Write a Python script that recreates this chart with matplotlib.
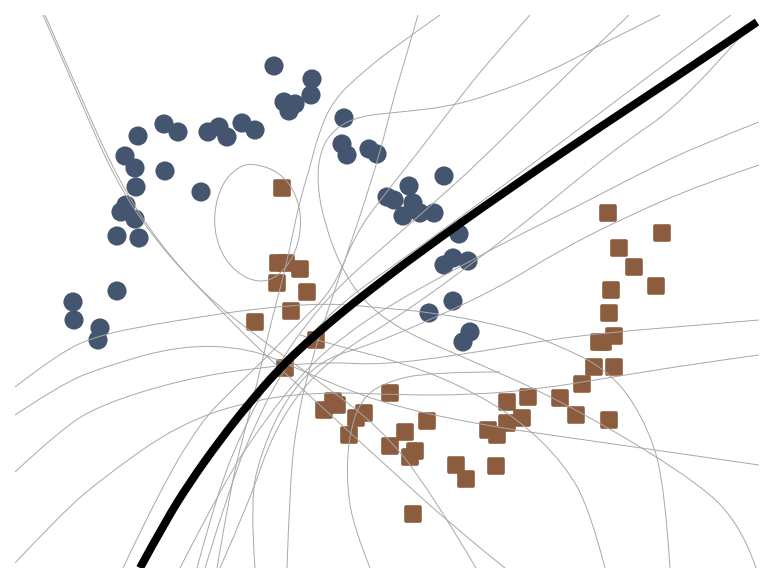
import numpy as np
import matplotlib
matplotlib.use("Agg")
import matplotlib.pyplot as plt
from matplotlib.path import Path
from matplotlib.patches import PathPatch
from matplotlib.markers import MarkerStyle

# ---- data (x, y) in plot units (y grows downward) ----
blue_x = [138, 164, 178, 208, 219, 227, 242, 255, 125, 135, 165, 136, 201, 126, 121, 135, 117, 139,
          274, 312, 311, 284, 295, 289, 344, 342, 347, 369, 377,
          444, 409, 387, 394, 413, 403, 420, 434, 459, 444, 453, 468, 453, 429, 470, 463,
          117, 73, 74, 100, 98]
blue_y = [136, 124, 132, 132, 127, 137, 123, 130, 156, 168, 171, 187, 192, 205, 212, 219, 236, 238,
          66, 79, 95, 102, 104, 111, 118, 144, 155, 149, 154,
          176, 186, 197, 200, 203, 216, 213, 213, 234, 265, 258, 261, 301, 313, 332, 342,
          291, 302, 320, 328, 340]

brown_x = [282, 278, 286, 300, 277, 307, 291, 255, 316, 285,
           390, 324, 333, 337, 364, 356, 349, 427, 405, 390, 415, 410, 456, 466, 496, 413,
           488, 497, 507, 528, 507, 522,
           608, 662, 619, 634, 656, 611, 609, 614, 599, 603, 594, 614, 582, 560, 576, 609]
brown_y = [188, 263, 263, 269, 283, 292, 311, 322, 340, 368,
           393, 410, 401, 405, 413, 418, 435, 421, 432, 446, 451, 457, 465, 479, 466, 514,
           430, 435, 402, 397, 423, 418,
           213, 233, 248, 267, 286, 290, 313, 336, 342, 342, 367, 367, 384, 398, 415, 420]

# main boundary
boundary = [(140, 568), (165, 522), (190, 482), (220, 440), (250, 402), (280, 368), (305, 344),
            (335, 318), (370, 290), (420, 252), (500, 195), (600, 127), (700, 61), (757, 22)]

# other boundaries
thin_curves = {
    "top_a": [(43, 15), (78, 95), (115, 180), (155, 240), (205, 295), (255, 335), (310, 375),
              (380, 427), (430, 490), (476, 568)],
    "top_b": [(45, 15), (80, 95), (118, 180), (160, 245), (210, 300), (260, 350), (300, 387),
              (380, 460), (457, 530), (505, 568)],
    "steep": [(418, 15), (405, 60), (393, 100), (380, 153), (362, 210), (345, 260), (328, 310),
              (310, 365), (297, 420), (290, 480), (287, 568)],
    "t440": [(440, 15), (400, 43), (365, 70), (333, 100), (318, 135), (310, 167), (300, 200),
             (293, 233), (285, 270), (277, 300), (268, 335), (258, 380), (245, 430), (232, 480),
             (217, 568)],
    "t530": [(530, 15), (497, 52), (463, 93), (420, 150), (380, 200), (355, 235), (333, 290),
             (300, 322), (267, 357), (230, 392), (200, 423), (160, 490), (123, 568)],
    "t630": [(629, 15), (547, 93), (484, 158), (420, 215), (380, 250), (340, 285), (305, 325),
             (275, 370), (245, 425), (218, 490), (197, 568)],
    "t660": [(660, 15), (600, 45), (547, 73), (490, 95), (447, 107), (400, 112), (360, 116),
             (335, 128), (320, 150), (317, 185), (325, 225), (340, 265), (362, 300), (400, 330),
             (470, 360), (560, 400), (680, 470), (740, 520), (756, 568)],
    "t731": [(731, 15), (650, 75), (567, 138), (500, 188), (440, 232), (390, 268), (345, 300),
             (310, 335), (280, 375), (255, 425), (232, 480), (205, 568)],
    "t753": [(753, 22), (687, 100), (613, 150), (520, 227), (450, 280), (390, 322), (340, 352),
             (300, 390), (270, 440), (250, 500), (220, 568)],
    "r122": [(759, 122), (700, 145), (647, 170), (580, 205), (513, 238), (450, 272), (390, 305),
             (345, 335), (305, 370), (265, 420), (225, 480), (180, 568)],
    "r165": [(759, 165), (700, 185), (630, 215), (560, 250), (500, 287), (430, 320), (370, 345),
             (320, 360), (285, 400), (262, 450), (250, 500), (255, 568)],
    "l387": [(15, 387), (60, 352), (100, 335), (150, 325), (200, 317), (260, 308), (330, 303),
             (380, 308), (430, 312), (500, 325), (547, 340), (613, 372), (650, 430), (665, 490),
             (670, 568)],
    "l415": [(15, 415), (60, 385), (100, 368), (180, 345), (250, 348), (300, 370), (380, 403),
             (480, 425), (600, 442), (759, 465)],
    "l472": [(15, 472), (60, 430), (100, 405), (180, 380), (260, 367), (330, 362), (380, 365),
             (460, 355), (547, 340), (613, 332), (700, 325), (759, 320)],
    "l563": [(15, 563), (60, 515), (100, 480), (180, 423), (260, 398), (330, 392), (400, 395),
             (470, 395), (540, 389), (613, 377), (700, 363), (759, 355)],
    "arc370": [(500, 372), (430, 372), (385, 382), (360, 400), (348, 440), (347, 490), (355, 530),
               (370, 568)],
    "b605": [(300, 335), (345, 348), (400, 362), (460, 385), (520, 420), (565, 465), (590, 510),
             (605, 568)],
}

egg = [(253, 163), (280, 172), (297, 195), (302, 225), (295, 255), (278, 277), (258, 283),
       (235, 272), (218, 248), (213, 215), (222, 183), (238, 167)]


def smooth_path(pts, closed=False):
    p = np.asarray(pts, dtype=float)
    if closed:
        n = len(p)
        start = (p[-1] + p[0]) / 2
        verts = [start]
        codes = [Path.MOVETO]
        for i in range(n):
            ctrl = p[i]
            end = (p[i] + p[(i + 1) % n]) / 2
            verts += [ctrl, end]
            codes += [Path.CURVE3, Path.CURVE3]
        return Path(verts, codes)
    verts = [p[0]]
    codes = [Path.MOVETO]
    n = len(p)
    if n == 2:
        return Path(p, [Path.MOVETO, Path.LINETO])
    for i in range(1, n - 1):
        ctrl = p[i]
        end = p[i + 1] if i == n - 2 else (p[i] + p[i + 1]) / 2
        verts += [ctrl, end]
        codes += [Path.CURVE3, Path.CURVE3]
    return Path(verts, codes)


fig = plt.figure(figsize=(7.74, 5.84), dpi=100)
ax = fig.add_axes([15 / 774, 16 / 584, 744 / 774, 553 / 584])
ax.set_xlim(15, 759)
ax.set_ylim(568, 15)
ax.axis("off")

blue = "#44556f"
brown = "#8c5c3e"

ax.scatter(blue_x, blue_y, s=190, color=blue, edgecolors="none", zorder=2)
sq = MarkerStyle("s", joinstyle="round")
ax.scatter(brown_x, brown_y, s=10.3 ** 2, marker=sq, color=brown, edgecolors=brown,
           linewidths=2.6, zorder=2)

for name, pts in thin_curves.items():
    ax.add_patch(PathPatch(smooth_path(pts), fill=False, edgecolor="#a8a8a8", lw=0.7, zorder=3))
ax.add_patch(PathPatch(smooth_path(egg, closed=True), fill=False, edgecolor="#a8a8a8", lw=0.7,
                       zorder=3))

ax.add_patch(PathPatch(smooth_path(boundary), fill=False, edgecolor="black", lw=5.8,
                       capstyle="butt", zorder=4))

fig.savefig("out.png", dpi=100)
